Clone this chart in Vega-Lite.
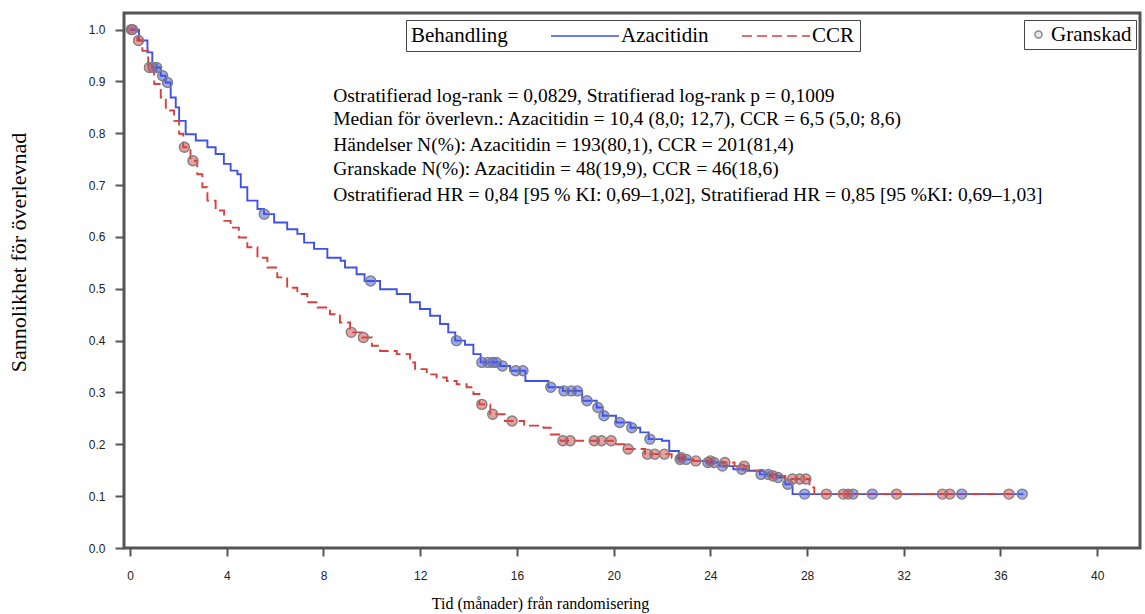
{
  "$schema": "https://vega.github.io/schema/vega-lite/v6.json",
  "autosize": {"type": "none"},
  "width": 1016,
  "height": 535,
  "padding": {"left": 124, "top": 13, "right": 5, "bottom": 66},
  "background": "white",
  "datasets": {
    "kurvor": [
      {"Behandling": "Azacitidin", "Tid": 0, "S": 1.0},
      {"Behandling": "Azacitidin", "Tid": 0.37, "S": 0.979},
      {"Behandling": "Azacitidin", "Tid": 0.72, "S": 0.956},
      {"Behandling": "Azacitidin", "Tid": 0.92, "S": 0.927},
      {"Behandling": "Azacitidin", "Tid": 1.27, "S": 0.911},
      {"Behandling": "Azacitidin", "Tid": 1.47, "S": 0.898},
      {"Behandling": "Azacitidin", "Tid": 1.68, "S": 0.869},
      {"Behandling": "Azacitidin", "Tid": 1.89, "S": 0.85},
      {"Behandling": "Azacitidin", "Tid": 2.03, "S": 0.824},
      {"Behandling": "Azacitidin", "Tid": 2.3, "S": 0.798},
      {"Behandling": "Azacitidin", "Tid": 2.72, "S": 0.786},
      {"Behandling": "Azacitidin", "Tid": 3.2, "S": 0.773},
      {"Behandling": "Azacitidin", "Tid": 3.54, "S": 0.76},
      {"Behandling": "Azacitidin", "Tid": 3.88, "S": 0.741},
      {"Behandling": "Azacitidin", "Tid": 4.16, "S": 0.728},
      {"Behandling": "Azacitidin", "Tid": 4.44, "S": 0.721},
      {"Behandling": "Azacitidin", "Tid": 4.58, "S": 0.696},
      {"Behandling": "Azacitidin", "Tid": 4.85, "S": 0.67},
      {"Behandling": "Azacitidin", "Tid": 5.27, "S": 0.654},
      {"Behandling": "Azacitidin", "Tid": 5.54, "S": 0.644},
      {"Behandling": "Azacitidin", "Tid": 5.96, "S": 0.628},
      {"Behandling": "Azacitidin", "Tid": 6.5, "S": 0.615},
      {"Behandling": "Azacitidin", "Tid": 6.92, "S": 0.606},
      {"Behandling": "Azacitidin", "Tid": 7.2, "S": 0.589},
      {"Behandling": "Azacitidin", "Tid": 7.61, "S": 0.577},
      {"Behandling": "Azacitidin", "Tid": 8.16, "S": 0.56},
      {"Behandling": "Azacitidin", "Tid": 8.71, "S": 0.554},
      {"Behandling": "Azacitidin", "Tid": 8.89, "S": 0.541},
      {"Behandling": "Azacitidin", "Tid": 9.37, "S": 0.528},
      {"Behandling": "Azacitidin", "Tid": 9.7, "S": 0.515},
      {"Behandling": "Azacitidin", "Tid": 10.34, "S": 0.499},
      {"Behandling": "Azacitidin", "Tid": 11.03, "S": 0.49},
      {"Behandling": "Azacitidin", "Tid": 11.58, "S": 0.474},
      {"Behandling": "Azacitidin", "Tid": 11.99, "S": 0.461},
      {"Behandling": "Azacitidin", "Tid": 12.41, "S": 0.448},
      {"Behandling": "Azacitidin", "Tid": 12.82, "S": 0.432},
      {"Behandling": "Azacitidin", "Tid": 13.16, "S": 0.416},
      {"Behandling": "Azacitidin", "Tid": 13.45, "S": 0.4},
      {"Behandling": "Azacitidin", "Tid": 13.85, "S": 0.392},
      {"Behandling": "Azacitidin", "Tid": 14.2, "S": 0.374},
      {"Behandling": "Azacitidin", "Tid": 14.5, "S": 0.358},
      {"Behandling": "Azacitidin", "Tid": 15.3, "S": 0.351},
      {"Behandling": "Azacitidin", "Tid": 15.72, "S": 0.342},
      {"Behandling": "Azacitidin", "Tid": 16.35, "S": 0.322},
      {"Behandling": "Azacitidin", "Tid": 17.3, "S": 0.31},
      {"Behandling": "Azacitidin", "Tid": 17.9, "S": 0.303},
      {"Behandling": "Azacitidin", "Tid": 18.7, "S": 0.284},
      {"Behandling": "Azacitidin", "Tid": 19.3, "S": 0.271},
      {"Behandling": "Azacitidin", "Tid": 19.55, "S": 0.255},
      {"Behandling": "Azacitidin", "Tid": 20.1, "S": 0.242},
      {"Behandling": "Azacitidin", "Tid": 20.7, "S": 0.232},
      {"Behandling": "Azacitidin", "Tid": 21.1, "S": 0.223},
      {"Behandling": "Azacitidin", "Tid": 21.45, "S": 0.21},
      {"Behandling": "Azacitidin", "Tid": 22.0, "S": 0.207},
      {"Behandling": "Azacitidin", "Tid": 22.3, "S": 0.187},
      {"Behandling": "Azacitidin", "Tid": 22.7, "S": 0.171},
      {"Behandling": "Azacitidin", "Tid": 23.3, "S": 0.168},
      {"Behandling": "Azacitidin", "Tid": 23.85, "S": 0.165},
      {"Behandling": "Azacitidin", "Tid": 24.4, "S": 0.158},
      {"Behandling": "Azacitidin", "Tid": 24.95, "S": 0.152},
      {"Behandling": "Azacitidin", "Tid": 25.5, "S": 0.149},
      {"Behandling": "Azacitidin", "Tid": 26.05, "S": 0.142},
      {"Behandling": "Azacitidin", "Tid": 26.74, "S": 0.136},
      {"Behandling": "Azacitidin", "Tid": 27.1, "S": 0.123},
      {"Behandling": "Azacitidin", "Tid": 27.4, "S": 0.104},
      {"Behandling": "Azacitidin", "Tid": 36.95, "S": 0.104},
      {"Behandling": "CCR", "Tid": 0, "S": 1.0},
      {"Behandling": "CCR", "Tid": 0.3, "S": 0.979},
      {"Behandling": "CCR", "Tid": 0.51, "S": 0.959},
      {"Behandling": "CCR", "Tid": 0.75, "S": 0.927},
      {"Behandling": "CCR", "Tid": 1.0, "S": 0.895},
      {"Behandling": "CCR", "Tid": 1.27, "S": 0.869},
      {"Behandling": "CCR", "Tid": 1.48, "S": 0.844},
      {"Behandling": "CCR", "Tid": 1.82, "S": 0.824},
      {"Behandling": "CCR", "Tid": 2.03, "S": 0.799},
      {"Behandling": "CCR", "Tid": 2.2, "S": 0.773},
      {"Behandling": "CCR", "Tid": 2.5, "S": 0.747},
      {"Behandling": "CCR", "Tid": 2.78, "S": 0.721},
      {"Behandling": "CCR", "Tid": 2.99, "S": 0.696},
      {"Behandling": "CCR", "Tid": 3.2, "S": 0.67},
      {"Behandling": "CCR", "Tid": 3.54, "S": 0.651},
      {"Behandling": "CCR", "Tid": 3.89, "S": 0.631},
      {"Behandling": "CCR", "Tid": 4.16, "S": 0.618},
      {"Behandling": "CCR", "Tid": 4.5, "S": 0.599},
      {"Behandling": "CCR", "Tid": 4.85, "S": 0.58},
      {"Behandling": "CCR", "Tid": 5.27, "S": 0.56},
      {"Behandling": "CCR", "Tid": 5.68, "S": 0.541},
      {"Behandling": "CCR", "Tid": 6.09, "S": 0.522},
      {"Behandling": "CCR", "Tid": 6.5, "S": 0.502},
      {"Behandling": "CCR", "Tid": 6.92, "S": 0.49},
      {"Behandling": "CCR", "Tid": 7.33, "S": 0.474},
      {"Behandling": "CCR", "Tid": 7.75, "S": 0.464},
      {"Behandling": "CCR", "Tid": 8.27, "S": 0.451},
      {"Behandling": "CCR", "Tid": 8.68, "S": 0.435},
      {"Behandling": "CCR", "Tid": 9.1, "S": 0.416},
      {"Behandling": "CCR", "Tid": 9.6, "S": 0.406},
      {"Behandling": "CCR", "Tid": 10.0, "S": 0.39},
      {"Behandling": "CCR", "Tid": 10.34, "S": 0.38},
      {"Behandling": "CCR", "Tid": 11.03, "S": 0.374},
      {"Behandling": "CCR", "Tid": 11.58, "S": 0.358},
      {"Behandling": "CCR", "Tid": 11.79, "S": 0.345},
      {"Behandling": "CCR", "Tid": 12.27, "S": 0.335},
      {"Behandling": "CCR", "Tid": 12.68, "S": 0.329},
      {"Behandling": "CCR", "Tid": 13.1, "S": 0.322},
      {"Behandling": "CCR", "Tid": 13.51, "S": 0.316},
      {"Behandling": "CCR", "Tid": 13.92, "S": 0.31},
      {"Behandling": "CCR", "Tid": 14.2, "S": 0.297},
      {"Behandling": "CCR", "Tid": 14.45, "S": 0.277},
      {"Behandling": "CCR", "Tid": 14.9, "S": 0.258},
      {"Behandling": "CCR", "Tid": 15.5, "S": 0.245},
      {"Behandling": "CCR", "Tid": 16.3, "S": 0.236},
      {"Behandling": "CCR", "Tid": 17.1, "S": 0.232},
      {"Behandling": "CCR", "Tid": 17.4, "S": 0.219},
      {"Behandling": "CCR", "Tid": 17.8, "S": 0.207},
      {"Behandling": "CCR", "Tid": 20.1, "S": 0.2},
      {"Behandling": "CCR", "Tid": 20.5, "S": 0.191},
      {"Behandling": "CCR", "Tid": 21.3, "S": 0.181},
      {"Behandling": "CCR", "Tid": 22.4, "S": 0.174},
      {"Behandling": "CCR", "Tid": 23.2, "S": 0.168},
      {"Behandling": "CCR", "Tid": 24.1, "S": 0.165},
      {"Behandling": "CCR", "Tid": 25.0, "S": 0.158},
      {"Behandling": "CCR", "Tid": 25.6, "S": 0.149},
      {"Behandling": "CCR", "Tid": 26.4, "S": 0.139},
      {"Behandling": "CCR", "Tid": 27.1, "S": 0.133},
      {"Behandling": "CCR", "Tid": 28.1, "S": 0.117},
      {"Behandling": "CCR", "Tid": 28.3, "S": 0.104},
      {"Behandling": "CCR", "Tid": 36.4, "S": 0.104}
    ],
    "granskade": [
      {"Behandling": "Azacitidin", "Typ": "Granskad", "Tid": 0.1, "S": 1.0},
      {"Behandling": "Azacitidin", "Typ": "Granskad", "Tid": 0.95, "S": 0.927},
      {"Behandling": "Azacitidin", "Typ": "Granskad", "Tid": 1.1, "S": 0.927},
      {"Behandling": "Azacitidin", "Typ": "Granskad", "Tid": 1.35, "S": 0.911},
      {"Behandling": "Azacitidin", "Typ": "Granskad", "Tid": 1.55, "S": 0.898},
      {"Behandling": "Azacitidin", "Typ": "Granskad", "Tid": 5.55, "S": 0.644},
      {"Behandling": "Azacitidin", "Typ": "Granskad", "Tid": 9.95, "S": 0.515},
      {"Behandling": "Azacitidin", "Typ": "Granskad", "Tid": 13.5, "S": 0.4},
      {"Behandling": "Azacitidin", "Typ": "Granskad", "Tid": 14.55, "S": 0.358},
      {"Behandling": "Azacitidin", "Typ": "Granskad", "Tid": 14.8, "S": 0.358},
      {"Behandling": "Azacitidin", "Typ": "Granskad", "Tid": 15.0, "S": 0.358},
      {"Behandling": "Azacitidin", "Typ": "Granskad", "Tid": 15.15, "S": 0.358},
      {"Behandling": "Azacitidin", "Typ": "Granskad", "Tid": 15.4, "S": 0.351},
      {"Behandling": "Azacitidin", "Typ": "Granskad", "Tid": 15.95, "S": 0.342},
      {"Behandling": "Azacitidin", "Typ": "Granskad", "Tid": 16.25, "S": 0.342},
      {"Behandling": "Azacitidin", "Typ": "Granskad", "Tid": 17.4, "S": 0.31},
      {"Behandling": "Azacitidin", "Typ": "Granskad", "Tid": 17.95, "S": 0.303},
      {"Behandling": "Azacitidin", "Typ": "Granskad", "Tid": 18.25, "S": 0.303},
      {"Behandling": "Azacitidin", "Typ": "Granskad", "Tid": 18.5, "S": 0.303},
      {"Behandling": "Azacitidin", "Typ": "Granskad", "Tid": 18.9, "S": 0.284},
      {"Behandling": "Azacitidin", "Typ": "Granskad", "Tid": 19.35, "S": 0.271},
      {"Behandling": "Azacitidin", "Typ": "Granskad", "Tid": 19.6, "S": 0.255},
      {"Behandling": "Azacitidin", "Typ": "Granskad", "Tid": 20.25, "S": 0.242},
      {"Behandling": "Azacitidin", "Typ": "Granskad", "Tid": 20.75, "S": 0.232},
      {"Behandling": "Azacitidin", "Typ": "Granskad", "Tid": 21.5, "S": 0.21},
      {"Behandling": "Azacitidin", "Typ": "Granskad", "Tid": 22.75, "S": 0.171},
      {"Behandling": "Azacitidin", "Typ": "Granskad", "Tid": 23.0, "S": 0.171},
      {"Behandling": "Azacitidin", "Typ": "Granskad", "Tid": 23.9, "S": 0.165},
      {"Behandling": "Azacitidin", "Typ": "Granskad", "Tid": 24.15, "S": 0.165},
      {"Behandling": "Azacitidin", "Typ": "Granskad", "Tid": 24.5, "S": 0.158},
      {"Behandling": "Azacitidin", "Typ": "Granskad", "Tid": 25.3, "S": 0.152},
      {"Behandling": "Azacitidin", "Typ": "Granskad", "Tid": 26.1, "S": 0.142},
      {"Behandling": "Azacitidin", "Typ": "Granskad", "Tid": 26.4, "S": 0.142},
      {"Behandling": "Azacitidin", "Typ": "Granskad", "Tid": 26.8, "S": 0.136},
      {"Behandling": "Azacitidin", "Typ": "Granskad", "Tid": 27.2, "S": 0.123},
      {"Behandling": "Azacitidin", "Typ": "Granskad", "Tid": 27.9, "S": 0.104},
      {"Behandling": "Azacitidin", "Typ": "Granskad", "Tid": 29.9, "S": 0.104},
      {"Behandling": "Azacitidin", "Typ": "Granskad", "Tid": 30.7, "S": 0.104},
      {"Behandling": "Azacitidin", "Typ": "Granskad", "Tid": 34.4, "S": 0.104},
      {"Behandling": "Azacitidin", "Typ": "Granskad", "Tid": 36.9, "S": 0.104},
      {"Behandling": "CCR", "Typ": "Granskad", "Tid": 0.05, "S": 1.0},
      {"Behandling": "CCR", "Typ": "Granskad", "Tid": 0.35, "S": 0.979},
      {"Behandling": "CCR", "Typ": "Granskad", "Tid": 0.8, "S": 0.927},
      {"Behandling": "CCR", "Typ": "Granskad", "Tid": 2.25, "S": 0.773},
      {"Behandling": "CCR", "Typ": "Granskad", "Tid": 2.6, "S": 0.747},
      {"Behandling": "CCR", "Typ": "Granskad", "Tid": 9.15, "S": 0.416},
      {"Behandling": "CCR", "Typ": "Granskad", "Tid": 9.65, "S": 0.406},
      {"Behandling": "CCR", "Typ": "Granskad", "Tid": 14.55, "S": 0.277},
      {"Behandling": "CCR", "Typ": "Granskad", "Tid": 15.0, "S": 0.258},
      {"Behandling": "CCR", "Typ": "Granskad", "Tid": 15.8, "S": 0.245},
      {"Behandling": "CCR", "Typ": "Granskad", "Tid": 17.9, "S": 0.207},
      {"Behandling": "CCR", "Typ": "Granskad", "Tid": 18.2, "S": 0.207},
      {"Behandling": "CCR", "Typ": "Granskad", "Tid": 19.2, "S": 0.207},
      {"Behandling": "CCR", "Typ": "Granskad", "Tid": 19.5, "S": 0.207},
      {"Behandling": "CCR", "Typ": "Granskad", "Tid": 19.9, "S": 0.207},
      {"Behandling": "CCR", "Typ": "Granskad", "Tid": 20.6, "S": 0.191},
      {"Behandling": "CCR", "Typ": "Granskad", "Tid": 21.4, "S": 0.181},
      {"Behandling": "CCR", "Typ": "Granskad", "Tid": 21.7, "S": 0.181},
      {"Behandling": "CCR", "Typ": "Granskad", "Tid": 22.1, "S": 0.181},
      {"Behandling": "CCR", "Typ": "Granskad", "Tid": 22.8, "S": 0.174},
      {"Behandling": "CCR", "Typ": "Granskad", "Tid": 23.4, "S": 0.168},
      {"Behandling": "CCR", "Typ": "Granskad", "Tid": 24.0, "S": 0.168},
      {"Behandling": "CCR", "Typ": "Granskad", "Tid": 24.6, "S": 0.165},
      {"Behandling": "CCR", "Typ": "Granskad", "Tid": 25.4, "S": 0.158},
      {"Behandling": "CCR", "Typ": "Granskad", "Tid": 26.6, "S": 0.139},
      {"Behandling": "CCR", "Typ": "Granskad", "Tid": 27.4, "S": 0.133},
      {"Behandling": "CCR", "Typ": "Granskad", "Tid": 27.7, "S": 0.133},
      {"Behandling": "CCR", "Typ": "Granskad", "Tid": 27.95, "S": 0.133},
      {"Behandling": "CCR", "Typ": "Granskad", "Tid": 28.8, "S": 0.104},
      {"Behandling": "CCR", "Typ": "Granskad", "Tid": 29.5, "S": 0.104},
      {"Behandling": "CCR", "Typ": "Granskad", "Tid": 29.7, "S": 0.104},
      {"Behandling": "CCR", "Typ": "Granskad", "Tid": 31.7, "S": 0.104},
      {"Behandling": "CCR", "Typ": "Granskad", "Tid": 33.6, "S": 0.104},
      {"Behandling": "CCR", "Typ": "Granskad", "Tid": 33.9, "S": 0.104},
      {"Behandling": "CCR", "Typ": "Granskad", "Tid": 36.35, "S": 0.104}
    ],
    "statistik": [
      {"Tid": 8.4, "S": 0.8726, "Rad": "Ostratifierad log-rank = 0,0829, Stratifierad log-rank p = 0,1009"},
      {"Tid": 8.4, "S": 0.8282, "Rad": "Median för överlevn.: Azacitidin = 10,4 (8,0; 12,7), CCR = 6,5 (5,0; 8,6)"},
      {"Tid": 8.4, "S": 0.778, "Rad": "Händelser N(%): Azacitidin = 193(80,1), CCR = 201(81,4)"},
      {"Tid": 8.4, "S": 0.7317, "Rad": "Granskade N(%): Azacitidin = 48(19,9), CCR = 46(18,6)"},
      {"Tid": 8.4, "S": 0.6815, "Rad": "Ostratifierad HR = 0,84 [95 % KI: 0,69–1,02], Stratifierad HR = 0,85 [95 %KI: 0,69–1,03]"}
    ]
  },
  "encoding": {
    "x": {
      "field": "Tid",
      "type": "quantitative",
      "scale": {"domain": [-0.25, 41.77], "nice": false, "zero": false},
      "axis": {
        "title": "Tid (månader) från randomisering",
        "values": [0, 4, 8, 12, 16, 20, 24, 28, 32, 36, 40],
        "tickSize": 8,
        "labelPadding": 14,
        "titleX": 416,
        "titleY": 47,
        "titleFontSize": 16
      }
    },
    "y": {
      "field": "S",
      "type": "quantitative",
      "scale": {"domain": [0, 1.032], "nice": false},
      "axis": {
        "title": "Sannolikhet för överlevnad",
        "values": [0, 0.1, 0.2, 0.3, 0.4, 0.5, 0.6, 0.7, 0.8, 0.9, 1.0],
        "format": ".1f",
        "tickSize": 9,
        "labelPadding": 10,
        "titleX": -94,
        "titleY": 239,
        "titleFontSize": 22
      }
    }
  },
  "layer": [
    {
      "data": {"name": "kurvor"},
      "mark": {"type": "line", "interpolate": "step-after", "strokeWidth": 1.9},
      "encoding": {
        "color": {
          "field": "Behandling",
          "type": "nominal",
          "scale": {"domain": ["Azacitidin", "CCR"], "range": ["#3f51e8", "#d6403f"]},
          "legend": {
            "title": "Behandling",
            "orient": "none",
            "legendX": 282,
            "legendY": 7,
            "direction": "horizontal",
            "titleOrient": "left",
            "titleFont": "Liberation Serif",
            "titleFontSize": 21,
            "titleFontWeight": "normal",
            "titleColor": "black",
            "titlePadding": 66,
            "labelFont": "Liberation Serif",
            "labelFontSize": 21,
            "labelColor": "black",
            "labelOffset": 25,
            "symbolType": "M-3.4,0H3.4",
            "symbolSize": 400,
            "symbolStrokeWidth": 1.5,
            "columnPadding": 30,
            "strokeColor": "#444",
            "fillColor": "white",
            "padding": 5
          }
        },
        "strokeDash": {
          "field": "Behandling",
          "type": "nominal",
          "scale": {"domain": ["Azacitidin", "CCR"], "range": [[1, 0], [10, 5]]}
        }
      }
    },
    {
      "data": {"name": "granskade"},
      "mark": {"type": "point", "filled": true, "size": 100, "stroke": "#808080", "strokeWidth": 1.4, "fillOpacity": 0.5},
      "encoding": {
        "fill": {
          "field": "Behandling",
          "type": "nominal",
          "scale": {"domain": ["Azacitidin", "CCR"], "range": ["#3f51e8", "#d6403f"]},
          "legend": null
        },
        "shape": {
          "field": "Typ",
          "type": "nominal",
          "scale": {"range": ["circle"]},
          "legend": {
            "title": null,
            "orient": "none",
            "legendX": 900,
            "legendY": 7,
            "labelFont": "Liberation Serif",
            "labelFontSize": 21,
            "labelColor": "black",
            "labelOffset": 2,
            "symbolSize": 50,
            "symbolFillColor": "#e8e8e8",
            "symbolStrokeColor": "#888",
            "strokeColor": "#444",
            "fillColor": "white",
            "padding": 4
          }
        }
      }
    },
    {
      "data": {"name": "statistik"},
      "mark": {"type": "text", "align": "left", "baseline": "middle", "font": "Liberation Serif", "fontSize": 19.5, "color": "black"},
      "encoding": {
        "text": {"field": "Rad", "type": "nominal"}
      }
    }
  ],
  "config": {
    "view": {"stroke": "#555", "strokeWidth": 3},
    "axis": {
      "domain": false,
      "grid": false,
      "tickColor": "#555",
      "tickWidth": 2,
      "labelFont": "Liberation Sans",
      "labelFontSize": 12,
      "labelColor": "#222",
      "titleFont": "Liberation Serif",
      "titleFontWeight": "normal",
      "titleFontSize": 19,
      "titleColor": "black"
    }
  }
}
